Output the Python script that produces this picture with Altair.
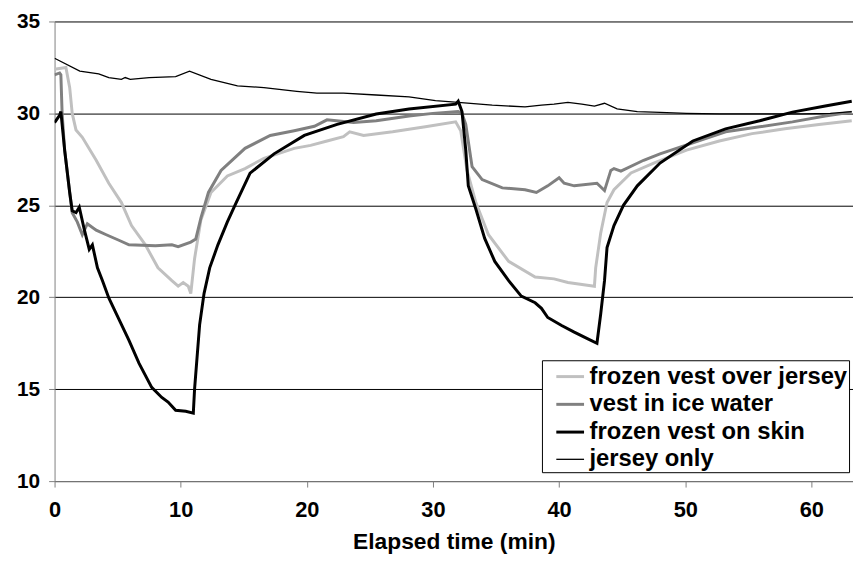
import altair as alt
import pandas as pd

series_names = ["frozen vest over jersey", "vest in ice water", "frozen vest on skin", "jersey only"]
series_colors = ["#c0c0c0", "#808080", "#000000", "#000000"]
series_widths = [3, 3, 3, 1.3]

x_ticks = [0, 10, 20, 30, 40, 50, 60]
y_ticks = [10, 15, 20, 25, 30, 35]

# frozen vest over jersey
fvj_x = [0, 0.9, 1.2, 1.4, 1.7, 2.2, 3.3, 4.3, 5.3, 6.1, 7.2, 8.2, 9.3, 9.8, 10.2, 10.6, 10.8,
         11.1, 11.6, 12.4, 13.7, 15.1, 16.6, 19.0, 20.3, 21.6, 22.9, 23.4, 24.5, 26.8, 29.4, 31.8,
         32.2, 32.7, 33.4, 34.4, 36.0, 38.1, 39.6, 40.7, 42.8, 42.9, 43.3, 43.8, 44.35, 45.7, 47.5,
         50.1, 52.7, 55.3, 57.9, 60.6, 63.2]
fvj_y = [32.4, 32.5, 31.4, 30.0, 29.1, 28.7, 27.45, 26.2, 25.15, 23.9, 22.85, 21.6, 20.9, 20.6, 20.8, 20.6, 20.2,
         22.1, 24.2, 25.7, 26.6, 27.0, 27.56, 28.1, 28.26, 28.5, 28.74, 29.0, 28.8, 29.0, 29.27, 29.54,
         29.06, 26.9, 25.15, 23.4, 21.95, 21.1, 21.0, 20.8, 20.6, 21.6, 23.5, 25.15, 25.85, 26.76, 27.3,
         28.0, 28.5, 28.9, 29.16, 29.4, 29.6]

# vest in ice water
viw_x = [0, 0.4, 0.5, 0.6, 0.8, 1.2, 1.4, 1.8, 2.2, 2.6, 3.3, 4.1, 5.1, 5.9, 8.0, 9.3, 9.8, 10.8,
         11.2, 11.6, 12.2, 13.2, 15.1, 17.1, 19.0, 20.6, 21.6, 23.7, 25.5, 28.1, 30.0, 32.0, 32.3,
         32.6, 33.1, 33.9, 35.5, 37.3, 38.2, 39.1, 40.0, 40.4, 41.2, 43.0, 43.6, 44.1, 44.35, 44.9,
         46.7, 48.0, 50.6, 53.2, 55.9, 58.5, 61.1, 63.2]
viw_y = [32.1, 32.2, 32.1, 30.0, 28.0, 25.7, 24.6, 24.1, 23.4, 24.0, 23.65, 23.4, 23.1, 22.85, 22.8, 22.85, 22.75, 23.0,
         23.17, 24.3, 25.7, 26.9, 28.1, 28.8, 29.06, 29.3, 29.65, 29.5, 29.6, 29.86, 30.0, 30.1, 30.0,
         29.4, 27.1, 26.4, 25.95, 25.85, 25.7, 26.06, 26.5, 26.2, 26.06, 26.2, 25.8, 26.9, 27.0, 26.86,
         27.45, 27.8, 28.4, 29.0, 29.27, 29.54, 29.86, 30.07]

# frozen vest on skin
fvs_x = [0, 0.4, 0.5, 0.8, 1.2, 1.4, 1.7, 1.96, 2.35, 2.75, 3.0, 3.4, 3.8, 4.3, 4.9, 5.9, 6.7, 7.7,
         8.5, 9.0, 9.6, 10.4, 11.0, 11.1, 11.5, 11.85, 12.3, 12.95, 13.7, 14.4, 15.5, 17.4, 19.8,
         22.4, 25.5, 28.1, 31.8, 32.0, 32.3, 32.6, 32.8, 33.4, 34.1, 34.9, 36.0, 37.0, 38.1, 38.6,
         39.1, 40.2, 41.2, 42.2, 43.0, 43.3, 43.6, 43.8, 44.35, 45.1, 46.2, 48.0, 50.6, 53.2, 55.9,
         58.5, 61.1, 63.2]
fvs_y = [29.5, 29.9, 30.1, 28.0, 25.7, 24.7, 24.6, 24.9, 23.7, 22.6, 22.85, 21.6, 20.9, 19.96, 19.1, 17.65, 16.4, 15.1,
         14.55, 14.3, 13.85, 13.8, 13.7, 15.0, 18.5, 20.2, 21.6, 22.85, 24.1, 25.15, 26.75, 27.8, 28.8,
         29.4, 29.97, 30.24, 30.5, 30.66, 30.1, 28.0, 26.06, 24.8, 23.2, 21.95, 20.9, 20.06, 19.7, 19.4,
         18.9, 18.46, 18.1, 17.76, 17.5, 19.1, 20.9, 22.7, 23.9, 25.0, 26.06, 27.3, 28.5, 29.16, 29.6,
         30.07, 30.4, 30.66]

# jersey only
jo_x = [0, 2.0, 3.5, 4.3, 5.3, 5.6, 6.0, 7.5, 9.6, 10.7, 12.4, 14.5, 16.6, 19.2, 20.8, 22.9, 25.5,
        28.1, 30.2, 32.0, 34.7, 37.3, 38.6, 39.6, 40.7, 41.8, 42.8, 43.6, 44.6, 46.2, 48.0, 50.1,
        52.7, 56.7, 59.3, 61.5, 63.2]
jo_y = [33.0, 32.3, 32.15, 31.95, 31.85, 31.95, 31.85, 31.95, 32.0, 32.3, 31.85, 31.5, 31.4, 31.2, 31.1, 31.1, 31.0,
        30.9, 30.7, 30.6, 30.45, 30.35, 30.45, 30.5, 30.6, 30.5, 30.4, 30.55, 30.25, 30.1, 30.05, 30.0,
        29.97, 29.97, 29.97, 30.0, 30.1]

all_series = [(series_names[0], fvj_x, fvj_y), (series_names[1], viw_x, viw_y),
              (series_names[2], fvs_x, fvs_y), (series_names[3], jo_x, jo_y)]
rows = []
for name, xs, ys in all_series:
    for i, (x, y) in enumerate(zip(xs, ys)):
        rows.append({"series": name, "time": x, "temp": y, "idx": i})
df = pd.DataFrame(rows)

FONT = "Liberation Sans"
legend_kw = dict(
    title=None, orient="none", legendX=492, legendY=342,
    strokeColor="#000000", fillColor="white", padding=1,
    symbolType="stroke", symbolSize=784, symbolOffset=12, labelOffset=4,
    labelFont=FONT, labelFontWeight=700, labelFontSize=24, labelColor="#000000",
    labelLimit=500, rowPadding=0,
)

chart = alt.Chart(df).mark_line(clip=True).encode(
    x=alt.X("time:Q", scale=alt.Scale(domain=[0, 63.3], nice=False, zero=False),
            axis=alt.Axis(values=x_ticks, title="Elapsed time (min)", grid=False,
                          domainColor="#808080", tickColor="#808080", tickSize=6,
                          labelFont=FONT, labelFontWeight=700, labelFontSize=22, labelColor="#000000",
                          labelPadding=13, labelFlush=False,
                          titleFont=FONT, titleFontWeight=700, titleFontSize=23, titleColor="#000000",
                          titlePadding=10)),
    y=alt.Y("temp:Q", scale=alt.Scale(domain=[10, 35], nice=False, zero=False),
            axis=alt.Axis(values=y_ticks, title=None, grid=True, gridColor="#000000", gridWidth=1,
                          domainColor="#808080", tickColor="#808080", tickSize=6,
                          labelFont=FONT, labelFontWeight=700, labelFontSize=21, labelColor="#000000",
                          labelPadding=9, labelFlush=False)),
    color=alt.Color("series:N", scale=alt.Scale(domain=series_names, range=series_colors),
                    legend=alt.Legend(**legend_kw)),
    strokeWidth=alt.StrokeWidth("series:N",
                                scale=alt.Scale(type="ordinal", domain=series_names, range=series_widths),
                                legend=alt.Legend(**legend_kw)),
    order=alt.Order("idx:Q"),
).properties(
    width=806, height=464,
    autosize=alt.AutoSizeParams(type="none"),
    padding={"left": 47, "top": 11, "right": 0, "bottom": 73},
).configure_view(stroke=None).configure_legend(cornerRadius=0)

chart.save("out.html", embed_options={"renderer": "svg", "actions": False})
